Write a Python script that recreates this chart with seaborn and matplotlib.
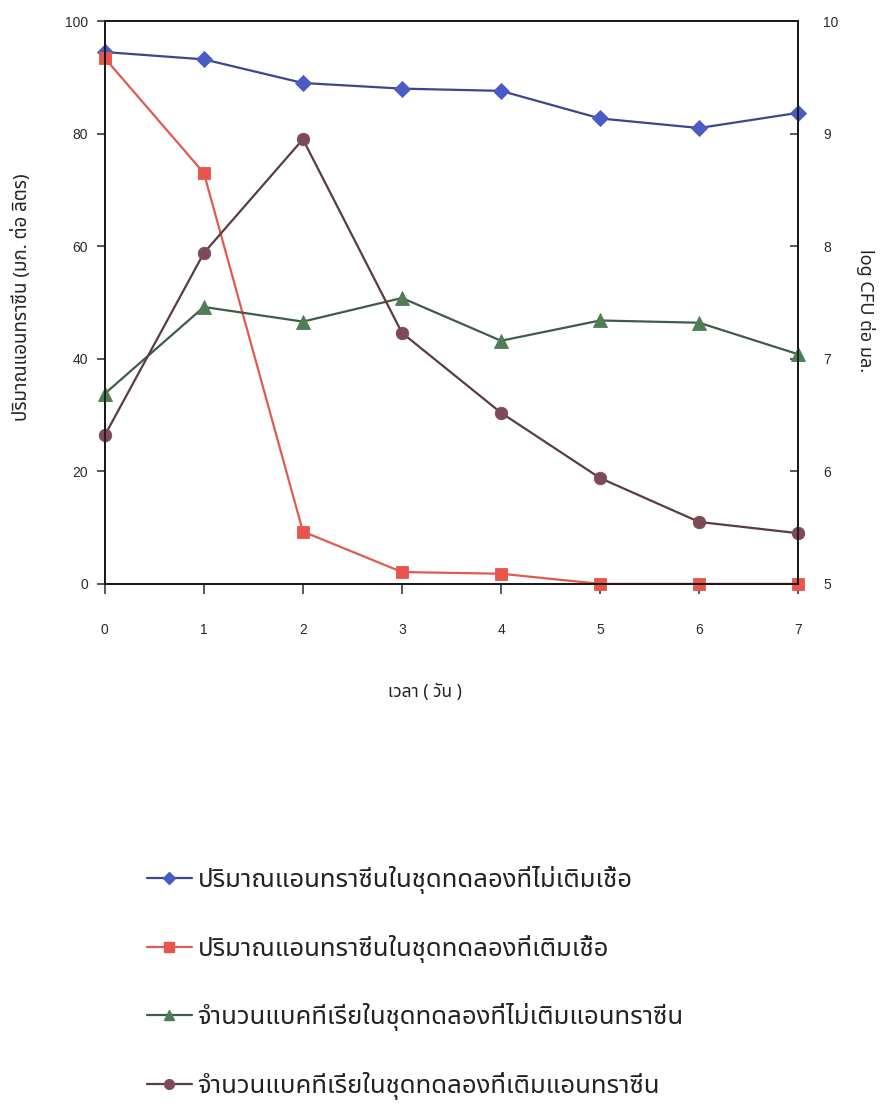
import matplotlib
matplotlib.use("Agg")
import matplotlib.pyplot as plt
import seaborn as sns
from matplotlib import font_manager
from matplotlib.ft2font import FT2Font
from matplotlib.lines import Line2D

# ---- data -------------------------------------------------------------
days = [0, 1, 2, 3, 4, 5, 6, 7]
day_labels = ["0", "1", "2", "3", "4", "5", "6", "7"]

# anthracene concentration (mg/L), left axis
anthracene_uninoculated = [94.5, 93.2, 89.0, 88.0, 87.6, 82.7, 81.0, 83.7]
anthracene_inoculated = [93.4, 73.0, 9.3, 2.1, 1.8, 0.0, 0.0, 0.0]

# bacterial count (log CFU/mL), right axis
bacteria_no_anthracene = [6.69, 7.46, 7.33, 7.54, 7.16, 7.34, 7.32, 7.04]
bacteria_with_anthracene = [6.32, 7.94, 8.95, 7.23, 6.52, 5.94, 5.55, 5.45]

left_ticks = [0, 20, 40, 60, 80, 100]
right_ticks = [5, 6, 7, 8, 9, 10]

series_labels = [
    "ปริมาณแอนทราซีนในชุดทดลองที่ไม่เติมเชื้อ",
    "ปริมาณแอนทราซีนในชุดทดลองที่เติมเชื้อ",
    "จำนวนแบคทีเรียในชุดทดลองที่ไม่เติมแอนทราซีน",
    "จำนวนแบคทีเรียในชุดทดลองที่เติมแอนทราซีน",
]
xlabel = "เวลา ( วัน )"
ylabel_left = "ปริมาณแอนทราซีน (มก. ต่อ ลิตร)"
ylabel_right = "log CFU ต่อ มล."


def thai_family():
    """Pick an installed family that actually carries Thai glyphs."""
    preferred = ["Noto Sans Thai", "Noto Sans Thai Looped", "Noto Serif Thai",
                 "Loma", "Garuda", "Norasi", "Kinnari", "Laksaman",
                 "TH Sarabun New", "Waree", "Umpush", "Sawasdee", "Tlwg Typo"]
    found = {}
    for f in font_manager.fontManager.ttflist:
        try:
            cmap = FT2Font(f.fname).get_charmap()
        except Exception:
            continue
        if 0x0E01 in cmap and 0x0E35 in cmap:
            found.setdefault(f.name, f.fname)
    for name in preferred:
        if name in found:
            return name
    return sorted(found)[0] if found else "DejaVu Sans"


sns.set_theme(style="white")
THAI = thai_family()
LATIN = "Liberation Sans"
plt.rcParams["font.family"] = [LATIN, THAI, "DejaVu Sans"]
thai_fam = [THAI, LATIN, "DejaVu Sans"]

fig = plt.figure(figsize=(8.81, 11.10), dpi=100)
ax = fig.add_axes([0.119, 0.474, 0.787, 0.507])
ax2 = ax.twinx()

blue_m, blue_l = "#4a5bc4", "#3a4790"
red_m, red_l = "#e8554c", "#e05a52"
green_m, green_l = "#4f7d55", "#405c48"
brown_m, brown_l = "#7d4b57", "#5a3c42"

common = dict(linewidth=1.6, markersize=9.5, markeredgewidth=0.6)
sns.lineplot(x=days, y=anthracene_uninoculated, ax=ax, color=blue_l, marker="D",
             markerfacecolor=blue_m, markeredgecolor=blue_m,
             **{**common, "markersize": 8})
sns.lineplot(x=days, y=anthracene_inoculated, ax=ax, color=red_l, marker="s",
             markerfacecolor=red_m, markeredgecolor=red_m,
             **{**common, "markersize": 9})
sns.lineplot(x=days, y=bacteria_no_anthracene, ax=ax2, color=green_l, marker="^",
             markerfacecolor=green_m, markeredgecolor=green_m, **common)
sns.lineplot(x=days, y=bacteria_with_anthracene, ax=ax2, color=brown_l, marker="o",
             markerfacecolor=brown_m, markeredgecolor=brown_m,
             **{**common, "markersize": 9})

for a in (ax, ax2):
    a.set_xlim(0, 7)
    a.grid(False)
    for s in a.spines.values():
        s.set_color("#1a1a1a")
        s.set_linewidth(1.3)
for ln in ax.lines + ax2.lines:
    ln.set_clip_on(False)

ax.set_ylim(0, 100)
ax2.set_ylim(5, 10)
ax.set_xticks(days)
ax.set_xticklabels(day_labels)
ax.set_yticks(left_ticks)
ax.set_yticklabels([str(t) for t in left_ticks])
ax2.set_yticks(right_ticks)
ax2.set_yticklabels([str(t) for t in right_ticks])

tick_col = "#2a2a2a"
ax.tick_params(axis="x", direction="out", length=7, width=1.1, pad=21,
               labelsize=10, colors=tick_col, bottom=True)
ax.tick_params(axis="y", direction="out", length=6, width=1.1, pad=6,
               labelsize=10, colors=tick_col, left=True)
ax2.tick_params(axis="y", direction="in", length=6, width=1.1, pad=18,
                labelsize=10, colors=tick_col, right=True)

ax.set_xlabel(xlabel, family=thai_fam, fontsize=12.5, fontweight="bold",
              color="#222222")
ax.xaxis.set_label_coords(0.462, -0.177)
ax.set_ylabel(ylabel_left, family=thai_fam, fontsize=13.5, fontweight="bold",
              color="#222222", va="center")
ax.yaxis.set_label_coords(-0.121, 0.51)
ax2.set_ylabel(ylabel_right, family=thai_fam, fontsize=13, fontweight="bold",
               color="#222222", rotation=270, va="center")
ax2.yaxis.set_label_coords(1.097, 0.485)

handles = [
    Line2D([], [], color=blue_l, marker="D", markerfacecolor=blue_m,
           markeredgecolor=blue_m, linewidth=1.6, markersize=6.5),
    Line2D([], [], color=red_l, marker="s", markerfacecolor=red_m,
           markeredgecolor=red_m, linewidth=1.6, markersize=7),
    Line2D([], [], color=green_l, marker="^", markerfacecolor=green_m,
           markeredgecolor=green_m, linewidth=1.6, markersize=7),
    Line2D([], [], color=brown_l, marker="o", markerfacecolor=brown_m,
           markeredgecolor=brown_m, linewidth=1.6, markersize=7),
]
leg = fig.legend(handles, series_labels, loc="upper left",
                 bbox_to_anchor=(0.155, 0.229), frameon=False,
                 prop={"family": thai_fam, "size": 18.5},
                 handlelength=1.75, handletextpad=0.22, labelspacing=1.58,
                 borderaxespad=0)
for t in leg.get_texts():
    t.set_color("#222222")

fig.savefig("out.png", dpi=100, facecolor="white")
